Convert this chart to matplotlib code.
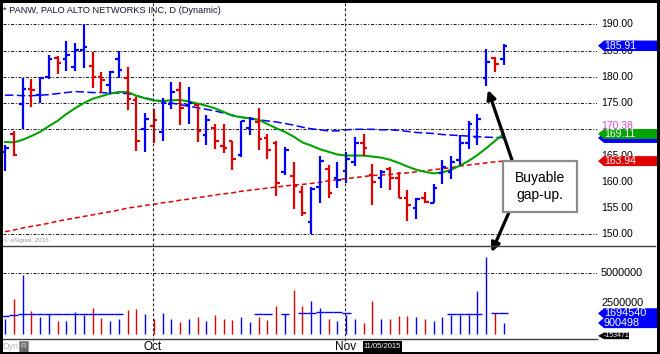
import numpy as np
import pandas as pd
import matplotlib
matplotlib.use("Agg")
import matplotlib.pyplot as plt
from matplotlib.patches import Polygon, Rectangle, ConnectionPatch
from matplotlib.lines import Line2D
from matplotlib.transforms import blended_transform_factory

plt.rcParams["font.family"] = ["Liberation Sans", "DejaVu Sans"]
plt.rcParams["lines.scale_dashes"] = False

# daily bars, PANW, 8 Sep 2015 - 27 Nov 2015
dates = pd.bdate_range("2015-09-08", "2015-11-27")
dates = dates[dates != pd.Timestamp("2015-11-26")]

opens = [165.6, 169.05, 174.8, 177.7, 176.5, 180.0, 183.5, 183.3, 181.9, 185.2,
         182.1, 180.0, 178.5, 183.3, 179.7, 175.6, 170.1, 170.6, 169.4, 174.8,
         177.5, 174.6, 174.6, 169.0, 170.3, 166.9, 167.7, 165.1, 170.2, 171.3,
         168.3, 167.3, 161.9, 161.1, 158.1, 152.4, 159.1, 162.4, 160.7, 162.1,
         163.8, 167.3, 161.3, 160.7, 162.4, 160.7, 157.0, 155.0, 157.0, 156.0,
         161.6, 161.9, 164.2, 167.3, 168.6, 179.8, 183.5, 183.4]
highs = [167.0, 169.7, 179.7, 179.6, 180.0, 184.2, 183.9, 186.8, 186.4, 190.0,
         184.8, 180.9, 181.2, 185.0, 181.8, 176.2, 173.2, 173.9, 175.9, 179.0,
         179.0, 178.0, 174.8, 172.7, 171.1, 171.1, 167.7, 171.6, 172.4, 174.1,
         169.2, 167.8, 166.7, 163.8, 159.2, 159.1, 164.9, 163.2, 163.7, 165.7,
         168.5, 169.1, 163.4, 162.3, 162.9, 161.9, 158.4, 157.0, 158.0, 159.5,
         164.2, 164.9, 168.9, 171.6, 172.9, 185.3, 183.8, 186.2]
lows = [162.1, 165.0, 170.0, 174.3, 175.0, 179.5, 180.6, 181.2, 181.2, 181.7,
        177.8, 177.0, 176.7, 179.7, 173.7, 165.9, 165.7, 167.4, 167.8, 173.9,
        170.8, 171.1, 167.5, 167.0, 166.3, 165.4, 162.3, 164.8, 168.9, 166.1,
        164.3, 157.2, 161.3, 154.8, 153.4, 150.1, 156.0, 156.9, 158.8, 159.7,
        163.1, 165.0, 155.6, 158.9, 158.4, 156.9, 152.6, 152.9, 155.9, 155.9,
        159.5, 160.5, 163.2, 166.2, 167.0, 178.3, 181.0, 182.3]
closes = [166.5, 165.1, 177.6, 177.4, 179.7, 183.3, 182.6, 184.2, 185.2, 185.6,
          180.0, 179.3, 181.0, 181.3, 175.8, 167.8, 172.0, 171.8, 175.1, 177.2,
          174.1, 175.0, 169.7, 171.8, 167.8, 166.5, 164.3, 171.5, 172.0, 168.1,
          166.1, 159.8, 166.1, 159.2, 154.1, 158.6, 164.0, 157.9, 160.4, 164.3,
          167.3, 166.5, 160.0, 161.9, 160.7, 157.0, 155.5, 156.7, 156.2, 158.8,
          162.9, 163.8, 167.3, 171.0, 172.0, 182.9, 182.4, 185.91]

# volume in millions of shares
volumes = [1.23, 2.87, 4.84, 1.89, 1.39, 1.64, 1.07, 1.07, 1.80, 1.56,
           2.13, 1.31, 1.07, 1.23, 1.97, 2.05, 1.64, 1.23, 1.72, 1.23,
           0.98, 1.23, 1.39, 1.07, 1.56, 1.23, 1.15, 1.39, 0.98, 1.39,
           1.15, 2.30, 1.64, 3.61, 2.30, 2.71, 2.13, 1.23, 1.07, 1.56,
           1.23, 0.90, 2.71, 1.23, 1.23, 1.48, 1.48, 1.39, 1.23, 1.07,
           1.39, 1.56, 1.56, 1.56, 3.53, 6.31, 1.72, 0.90]
nan = np.nan
vol_avg = [1.48, 1.56, 1.64, 1.64, 1.64, 1.64, 1.64, 1.64, 1.64, 1.64,
           1.64, 1.64, 1.64, 1.64, nan, nan, nan, nan, nan, nan,
           nan, nan, nan, nan, nan, nan, nan, nan, nan, 1.64,
           1.64, nan, 1.64, nan, 1.72, 1.72, 1.80, 1.80, 1.80, 1.72,
           nan, nan, nan, nan, nan, nan, nan, nan, nan, nan,
           nan, 1.64, 1.60, 1.60, 1.64, nan, 1.72, 1.69]

# moving averages as shown on the chart
ma_green = [167.6, 167.5, 168.0, 168.7, 169.5, 170.6, 171.6, 172.9, 174.0, 175.0,
            175.8, 176.3, 176.8, 177.1, 177.1, 176.4, 175.9, 175.5, 175.4, 175.5,
            175.6, 175.3, 174.9, 174.5, 174.0, 173.3, 172.6, 172.3, 172.1, 171.8,
            171.0, 170.2, 169.5, 168.6, 167.5, 166.9, 166.2, 165.7, 165.2, 165.0,
            165.0, 165.0, 164.8, 164.6, 164.2, 163.6, 162.9, 162.3, 161.9, 161.6,
            161.8, 162.3, 163.1, 164.0, 165.1, 166.4, 167.8, 169.1]
ma_blue = [176.5, 176.5, 176.4, 176.4, 176.5, 176.6, 176.8, 177.0, 177.2, 177.1,
           177.0, 177.0, 176.9, 176.9, 176.8, 176.4, 176.0, 175.6, 175.2, 175.0,
           174.7, 174.4, 174.1, 173.8, 173.5, 173.1, 172.7, 172.3, 172.0, 171.8,
           171.6, 171.4, 171.1, 170.8, 170.4, 170.1, 169.9, 169.7, 169.7, 169.9,
           170.0, 170.0, 170.0, 169.9, 169.9, 169.8, 169.6, 169.4, 169.3, 169.2,
           169.0, 168.9, 168.8, 168.7, 168.6, 168.5, 168.45, 168.4]
ma_red = [150.5, 150.8, 151.2, 151.5, 151.8, 152.1, 152.5, 152.8, 153.1, 153.4,
          153.7, 154.0, 154.3, 154.6, 155.0, 155.2, 155.5, 155.7, 156.0, 156.2,
          156.5, 156.7, 157.0, 157.2, 157.5, 157.7, 157.9, 158.2, 158.4, 158.6,
          158.8, 159.0, 159.2, 159.4, 159.5, 159.7, 159.9, 160.2, 160.4, 160.6,
          160.8, 161.0, 161.2, 161.3, 161.4, 161.6, 161.7, 161.9, 162.1, 162.3,
          162.5, 162.7, 163.0, 163.2, 163.4, 163.6, 163.8, 163.94]

price_labels = [190, 185, 180, 175, 165, 160, 155, 150]
price_grid = [190, 185, 180, 175, 170, 150]
vol_labels = [5.0, 2.5]
magenta_last = 170.38
green_tag = 169.11
blue_tag = 168.35
gap_idx = 55

BLUE = "#0000ff"
RED = "#e00000"
GREEN = "#00a400"

W, H = 660, 354


def fx(px):
    return px / W


def fy(py):
    return 1 - py / H


fig = plt.figure(figsize=(6.6, 3.54), dpi=100)
ax = fig.add_axes([fx(3), fy(246), fx(597) - fx(3), (246 - 3) / H])
axv = fig.add_axes([fx(3), fy(339), fx(597) - fx(3), (339 - 246) / H])
for a in (ax, axv):
    a.set_axis_off()
    a.set_xlim(-0.23, 67.66)
ax.set_ylim(147.77, 194.06)
axv.set_ylim(-0.41, 7.21)

idx = np.arange(len(dates))
o = np.array(opens)
h = np.array(highs)
l = np.array(lows)
c = np.array(closes)
prev = np.r_[c[0] - 1, c[:-1]]
cols = [BLUE if cc >= pp else RED for cc, pp in zip(c, prev)]

grid_ls = (0, (2.2, 1.2, 0.8, 1.2))
for g in price_grid:
    ax.axhline(g, color="#202020", lw=0.75, ls=grid_ls, zorder=1)
axv.axhline(5.0, color="#202020", lw=0.75, ls=grid_ls, zorder=1)

# month separators
month_pos = [i for i in range(1, len(dates)) if dates[i].month != dates[i - 1].month]
trv = blended_transform_factory(ax.transData, fig.transFigure)
for m in month_pos:
    fig.add_artist(Line2D([m - 0.1, m - 0.1], [fy(3), fy(341)], transform=trv,
                          color="#202020", lw=0.8, ls=(0, (2.0, 1.6)), zorder=0.4))
    fig.text(m - 0.1, fy(347.5), dates[m].strftime("%b"), transform=trv,
             ha="center", va="center", fontsize=8.5, color="black")

# moving averages
ax.plot(idx, ma_red, color=RED, lw=1.1, ls=(0, (3.5, 2.2)), zorder=2)
ax.plot(idx, ma_blue, color=BLUE, lw=1.1, ls=(0, (6, 2.5)), zorder=2)
ax.plot(idx, ma_green, color=GREEN, lw=1.5, zorder=2)

# OHLC bars
ax.vlines(idx, l, h, colors=cols, lw=1.6, zorder=3)
ax.hlines(o, idx - 0.42, idx, colors=cols, lw=1.6, zorder=3)
ax.hlines(c, idx, idx + 0.42, colors=cols, lw=1.6, zorder=3)

# volume
axv.vlines(idx, 0, volumes, colors=cols, lw=1.0, zorder=3)
va = np.array(vol_avg)
ok = ~np.isnan(va)
axv.hlines(va[ok], idx[ok] - 0.5, idx[ok] + 0.5, colors=BLUE, lw=1.0, zorder=3)

# panel lines
fig.add_artist(Line2D([fx(3), fx(655)], [fy(246), fy(246)], color="#404040", lw=1.0))
fig.add_artist(Line2D([fx(3), fx(597)], [fy(339), fy(339)], color="#404040", lw=1.0))

# right axis labels
trp = blended_transform_factory(fig.transFigure, ax.transData)
trq = blended_transform_factory(fig.transFigure, axv.transData)
for p in price_labels:
    ax.text(fx(601), p, f"{p:.2f}", transform=trp, fontsize=7.5, va="center",
            ha="left", clip_on=False)
for v in vol_labels:
    axv.text(fx(601), v, f"{int(v * 1e6)}", transform=trq, fontsize=7.8,
             va="center", ha="left", clip_on=False)


def tag(axis, tr, val, txt, fc, half, x1=657, fs=7.5, tc="white"):
    pts = [(fx(598), val), (fx(604), val + half), (fx(x1), val + half),
           (fx(x1), val - half), (fx(604), val - half)]
    axis.add_patch(Polygon(pts, closed=True, fc=fc, ec="none", transform=tr,
                           clip_on=False, zorder=5))
    if txt:
        axis.text(fx(604), val, txt, transform=tr, fontsize=fs, color=tc,
                  va="center", ha="left", clip_on=False, zorder=6)


ax.text(fx(601), magenta_last + 0.3, f"{magenta_last:.2f}", transform=trp, fontsize=7.5,
        color="#e040e0", va="center", ha="left", clip_on=False)
tag(ax, trp, c[-1], f"{c[-1]:.2f}", BLUE, 1.0)
tag(ax, trp, blue_tag, "", BLUE, 0.95)
tag(ax, trp, green_tag, f"{green_tag:.2f}", GREEN, 0.95)
tag(ax, trp, ma_red[-1], f"{ma_red[-1]:.2f}", RED, 0.95)
tag(axv, trq, vol_avg[-1], "1694540", BLUE, 0.42, fs=7.8)
tag(axv, trq, volumes[-1], "900498", BLUE, 0.42, fs=7.8)
tag(axv, trq, -0.153, "-153471", "black", 0.27, x1=629, fs=5.0)

# title and footer texts
fig.text(fx(3), fy(10.5), "* PANW, PALO ALTO NETWORKS INC, D (Dynamic)",
         fontsize=6.7, va="center", ha="left", color="#141438")
fig.text(fx(4), fy(240), "\u00a9 eSignal, 2015", fontsize=4.5, color="#9a9a9a",
         va="center", ha="left")
fig.text(fx(2), fy(346.5), "Dyn", fontsize=6.5, color="#b8b8b8", va="center", ha="left")
fig.add_artist(Rectangle((fx(19), fy(352)), fx(9), 11 / H, transform=fig.transFigure,
                         fc="#6a6a6a", ec="#9a9a9a", lw=0.6))
fig.text(fx(23.5), fy(346.5), "R", fontsize=6, color="#dddddd", va="center", ha="center")
fig.add_artist(Rectangle((fx(363), fy(352)), fx(39), 11 / H, transform=fig.transFigure,
                         fc="black", ec="none"))
fig.text(fx(382.5), fy(346.5), "11/05/2015", fontsize=5.5, color="white",
         va="center", ha="center")

# annotation box + arrows
up = ConnectionPatch(xyA=(513, H - 163), coordsA="figure pixels",
                     xyB=(gap_idx + 0.2, lows[gap_idx] - 0.8), coordsB=ax.transData,
                     arrowstyle="-|>", mutation_scale=13, lw=2.3, color="black",
                     zorder=0.6)
fig.add_artist(up)
dn = ConnectionPatch(xyA=(510, H - 210), coordsA="figure pixels",
                     xyB=(gap_idx + 0.6, volumes[gap_idx] + 0.4), coordsB=axv.transData,
                     arrowstyle="-|>", mutation_scale=13, lw=2.3, color="black",
                     zorder=0.6)
fig.add_artist(dn)
fig.add_artist(Rectangle((fx(503), fy(212)), fx(74), 51 / H, transform=fig.transFigure,
                         fc="white", ec="#8c8c8c", lw=1.6, zorder=1))
fig.text(fx(540), fy(186.5), "Buyable\ngap-up.", fontsize=10, ha="center",
         va="center", linespacing=1.25, zorder=3)

# black frame
for x0, y0, w, hh in [(0, 0, 660, 2.5), (0, 351.5, 660, 2.5), (0, 0, 2.5, 354), (657, 0, 3, 354)]:
    fig.add_artist(Rectangle((fx(x0), fy(y0 + hh)), w / W, hh / H,
                             transform=fig.transFigure, fc="black", ec="none", zorder=10))

fig.savefig("out.png", dpi=100)
